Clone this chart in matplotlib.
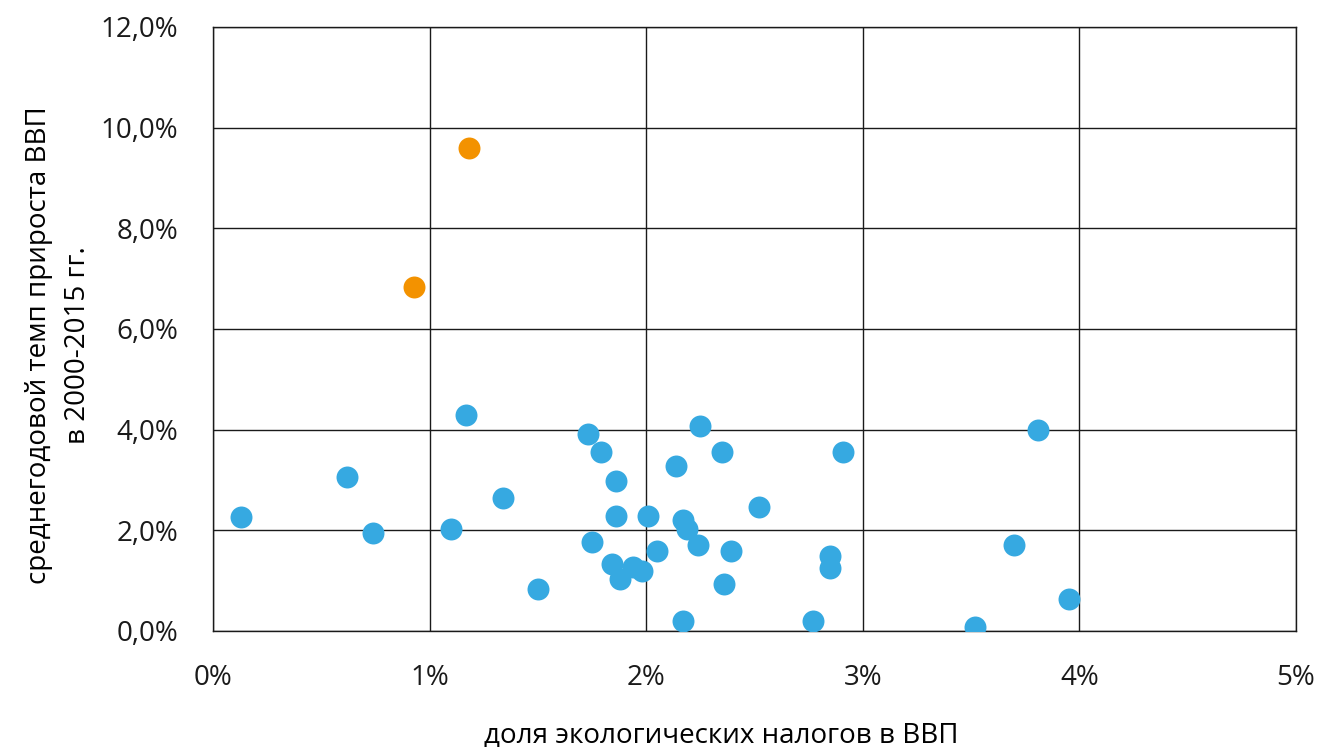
import numpy as np
from matplotlib import pyplot as plt
from matplotlib.ticker import FuncFormatter

plt.rcParams['font.family'] = ['Open Sans', 'DejaVu Sans']

# share of environmental taxes in GDP (%), average GDP growth 2000-2015 (%)
blue_x = [0.13, 0.62, 0.74, 1.10, 1.17, 1.34, 1.50, 1.73, 1.75, 1.79, 1.86, 1.86,
          1.84, 1.88, 1.94, 1.98, 2.01, 2.05, 2.14, 2.17, 2.19, 2.17, 2.25, 2.24,
          2.35, 2.39, 2.36, 2.52, 2.77, 2.85, 2.85, 2.91, 3.52, 3.70, 3.81, 3.95]
blue_y = [2.27, 3.06, 1.95, 2.03, 4.29, 2.64, 0.83, 3.91, 1.77, 3.56, 2.98, 2.28,
          1.33, 1.03, 1.27, 1.19, 2.28, 1.59, 3.28, 2.21, 2.03, 0.20, 4.07, 1.71,
          3.56, 1.59, 0.93, 2.46, 0.20, 1.49, 1.25, 3.56, 0.08, 1.71, 3.99, 0.64]
orange_x = [1.18, 0.93]
orange_y = [9.60, 6.83]

fig = plt.figure(figsize=(13.22, 7.47), dpi=100)
ax = fig.add_axes([0.1611, 0.1553, 0.8192, 0.8086])

ax.scatter(blue_x, blue_y, s=250, color='#36a9e1', zorder=3, linewidths=0)
ax.scatter(orange_x, orange_y, s=250, color='#f39200', zorder=3, linewidths=0)

ax.set_xlim(0, 5)
ax.set_ylim(0, 12)
ax.set_xticks(np.arange(0, 6, 1))
ax.set_yticks(np.arange(0, 13, 2))
ax.xaxis.set_major_formatter(FuncFormatter(lambda v, p: '{:d}%'.format(int(round(v)))))
ax.yaxis.set_major_formatter(FuncFormatter(lambda v, p: '{:.1f}%'.format(v).replace('.', ',')))
ax.grid(True, color='#1a1a1a', linewidth=1.0, zorder=0)
ax.set_axisbelow(True)
for sp in ax.spines.values():
    sp.set_color('#1a1a1a')
    sp.set_linewidth(1.0)
ax.tick_params(length=0, labelsize=20, colors='#1a1a1a')
ax.tick_params(axis='y', pad=25)
ax.tick_params(axis='x', pad=24)

ax.set_xlabel('доля экологических налогов в ВВП', fontsize=20)
ax.set_ylabel('среднегодовой темп прироста ВВП\nв 2000-2015 гг.', fontsize=20,
              linespacing=1.5)
ax.xaxis.set_label_coords(0.469, -0.150)
ax.yaxis.set_label_coords(-0.112, 0.474)

fig.savefig('out.png', dpi=100)
